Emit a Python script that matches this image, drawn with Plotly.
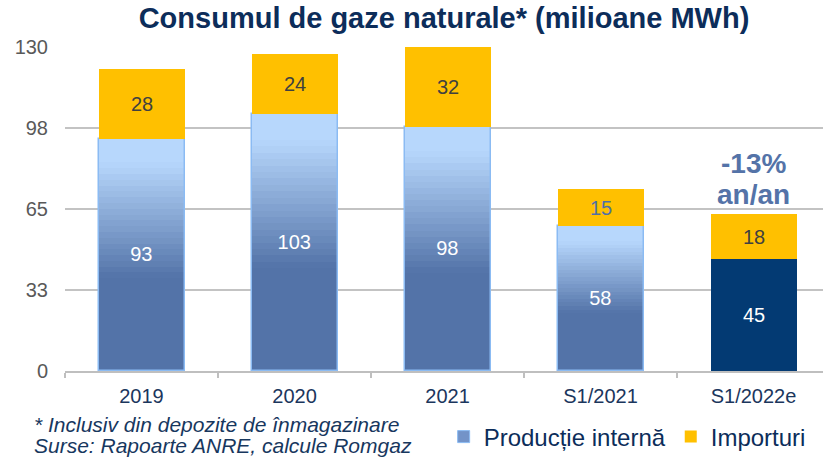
import plotly.graph_objects as go

# ---------------- data ----------------
categories = ["2019", "2020", "2021", "S1/2021", "S1/2022e"]
productie = [93, 103, 98, 58, 45]
importuri = [28, 24, 32, 15, 18]
prod_style = ["gradient", "gradient", "gradient", "gradient", "solid"]
y_tick_values = [0, 32.5, 65, 97.5, 130]
y_tick_labels = ["0", "33", "65", "98", "130"]
change_line1 = "-13%"
change_line2 = "an/an"
title_text = "Consumul de gaze naturale* (milioane MWh)"
note_line1 = "* Inclusiv din depozite de înmagazinare"
note_line2 = "Surse: Rapoarte ANRE, calcule Romgaz"
name_prod = "Producție internă"
name_imp = "Importuri"

# ---------------- style ----------------
FONT = "Arial, Liberation Sans, sans-serif"
NAVY = "#0C2D5A"
BAR_W = 0.562
N_SLICES = 40
LIGHT = (183, 215, 252)
DARK = (83, 115, 168)
YELLOW = "#FFC000"
SOLID_NAVY = "#033A73"
EDGE = "#8BBBF3"
GRID = "#C3C3C3"
imp_text_colors = ["#404040", "#404040", "#404040", "#4F70A8", "#404040"]


def grad_color(f_from_top):
    if f_from_top <= 0.1:
        t = 0.0
    elif f_from_top >= 0.6:
        t = 1.0
    else:
        t = (f_from_top - 0.1) / 0.5
    r, g, b = (round(LIGHT[k] + (DARK[k] - LIGHT[k]) * t) for k in range(3))
    return f"rgb({r},{g},{b})"


fig = go.Figure()

grad_x = [c for c, s in zip(categories, prod_style) if s == "gradient"]
grad_p = [p for p, s in zip(productie, prod_style) if s == "gradient"]
solid_x = [c for c, s in zip(categories, prod_style) if s == "solid"]
solid_p = [p for p, s in zip(productie, prod_style) if s == "solid"]

# gradient production bars, drawn as stacked slices
for i in range(N_SLICES):
    fig.add_bar(
        x=grad_x,
        y=[p / N_SLICES for p in grad_p],
        base=[p * i / N_SLICES for p in grad_p],
        width=BAR_W,
        marker=dict(color=grad_color(1 - (i + 0.5) / N_SLICES), line=dict(width=0)),
        showlegend=False,
        hoverinfo="skip",
    )

# outline + value labels for gradient bars
fig.add_bar(
    x=grad_x,
    y=grad_p,
    base=[0] * len(grad_p),
    width=BAR_W,
    marker=dict(color="rgba(0,0,0,0)", line=dict(color=EDGE, width=1.5)),
    text=[str(p) for p in grad_p],
    textposition="inside",
    insidetextanchor="middle",
    textfont=dict(color="white", size=20, family=FONT),
    showlegend=False,
    name=name_prod,
)

# solid (estimate) production bar
fig.add_bar(
    x=solid_x,
    y=solid_p,
    base=[0] * len(solid_p),
    width=BAR_W,
    marker=dict(color=SOLID_NAVY, line=dict(width=0)),
    text=[str(p) for p in solid_p],
    textposition="inside",
    insidetextanchor="middle",
    textfont=dict(color="white", size=20, family=FONT),
    showlegend=False,
    name=name_prod,
)

# legend entry for production
fig.add_bar(
    x=[categories[0]],
    y=[None],
    width=BAR_W,
    marker=dict(color="#7393C8", line=dict(color=EDGE, width=1)),
    name=name_prod,
    showlegend=True,
)

# imports
fig.add_bar(
    x=categories,
    y=importuri,
    base=productie,
    width=BAR_W,
    marker=dict(color=YELLOW, line=dict(width=0)),
    text=[str(v) for v in importuri],
    textposition="inside",
    insidetextanchor="middle",
    textfont=dict(color=imp_text_colors, size=20, family=FONT),
    name=name_imp,
)

total_last = productie[-1] + importuri[-1]
annotations = [
    dict(x=categories[-1], y=total_last, xref="x", yref="y", text=f"<b>{change_line2}</b>",
         showarrow=False, yanchor="middle", yshift=19,
         font=dict(size=28, color="#5473A8", family=FONT)),
    dict(x=categories[-1], y=total_last, xref="x", yref="y", text=f"<b>{change_line1}</b>",
         showarrow=False, yanchor="middle", yshift=50,
         font=dict(size=28, color="#5473A8", family=FONT)),
    dict(x=-0.0435, y=-0.165, xref="paper", yref="paper", text=f"<i>{note_line1}</i>",
         showarrow=False, xanchor="left", yanchor="middle",
         font=dict(size=21, color="#17375E", family=FONT)),
    dict(x=-0.0435, y=-0.230, xref="paper", yref="paper", text=f"<i>{note_line2}</i>",
         showarrow=False, xanchor="left", yanchor="middle",
         font=dict(size=21, color="#17375E", family=FONT)),
]

fig.update_layout(
    width=823,
    height=461,
    barmode="overlay",
    paper_bgcolor="white",
    plot_bgcolor="white",
    margin=dict(l=65, r=0, t=47, b=90),
    title=dict(text=f"<b>{title_text}</b>", x=0.5395, xref="container", xanchor="center",
               y=1 - 18 / 461, yref="container", yanchor="middle",
               font=dict(size=29, color=NAVY, family=FONT)),
    font=dict(family=FONT),
    showlegend=True,
    legend=dict(orientation="h", xref="container", yref="container", x=0.985, xanchor="right",
                y=(461 - 437) / 461, yanchor="middle", bgcolor="rgba(0,0,0,0)",
                font=dict(size=24, color=NAVY, family=FONT), traceorder="normal"),
    xaxis=dict(type="category", range=[-0.5, 4.454], tickson="boundaries", ticks="outside",
               ticklen=5, tickwidth=1.5, tickcolor="#BFBFBF", showline=True, linecolor="#BFBFBF",
               linewidth=1.5, showgrid=False, ticklabelstandoff=6,
               tickfont=dict(size=20, color="#1B365D", family=FONT), fixedrange=True),
    yaxis=dict(range=[0, 130], tickvals=y_tick_values, ticktext=y_tick_labels, showgrid=True,
               gridcolor=GRID, gridwidth=1.5, zeroline=False, showline=False, ticks="",
               ticklabelstandoff=16, tickfont=dict(size=20, color="#595959", family=FONT),
               fixedrange=True),
    annotations=annotations,
    bargap=0,
)

fig.write_html(
    "out.html",
    config={"displayModeBar": False},
    post_script="document.body.style.margin='0px';document.body.style.padding='0px';",
)
